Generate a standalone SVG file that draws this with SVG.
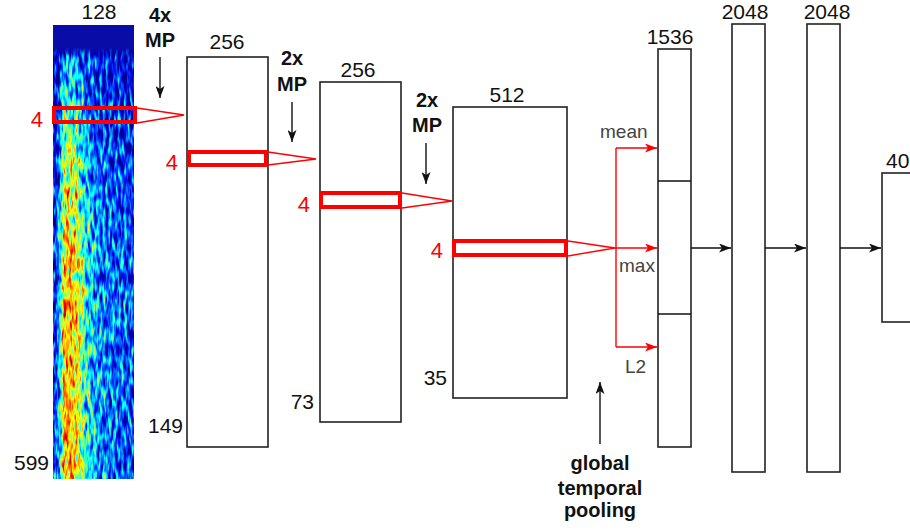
<svg xmlns="http://www.w3.org/2000/svg" width="910" height="531" viewBox="0 0 910 531">
<style>
.num{font-family:"Liberation Sans",Arial,sans-serif;font-size:21px;fill:#111}
.red{font-family:"Liberation Sans",Arial,sans-serif;font-size:22px;fill:#ff0000}
.bold{font-family:"Liberation Sans",Arial,sans-serif;font-size:20px;font-weight:bold;fill:#111;text-anchor:middle}
.gray{font-family:"Liberation Sans",Arial,sans-serif;font-size:19px;fill:#444}
.box{fill:#fff;stroke:#222;stroke-width:1.6}
.rbox{fill:none;stroke:#ff0000;stroke-width:4}
.tri{fill:none;stroke:#ff0000;stroke-width:1.3}
.conn{stroke:#111;stroke-width:1.4;fill:none}
.rconn{stroke:#ff0000;stroke-width:1.4;fill:none}
</style>
<defs>
<marker id="ah" viewBox="0 0 12 9" markerWidth="12" markerHeight="9" refX="12" refY="4.5" orient="auto" markerUnits="userSpaceOnUse">
<path d="M0,0 L12,4.5 L0,9 L3,4.5 z" fill="#111"/>
</marker>
<marker id="rah" viewBox="0 0 12 9" markerWidth="12" markerHeight="9" refX="12" refY="4.5" orient="auto" markerUnits="userSpaceOnUse">
<path d="M0,0 L12,4.5 L0,9 L3,4.5 z" fill="#ff0000"/>
</marker>
<linearGradient id="hint" x1="0" y1="0" x2="1" y2="0">
<stop offset="0" stop-color="rgb(35,35,35)"/>
<stop offset="0.07" stop-color="rgb(60,60,60)"/>
<stop offset="0.13" stop-color="rgb(178,178,178)"/>
<stop offset="0.28" stop-color="rgb(170,170,170)"/>
<stop offset="0.42" stop-color="rgb(95,95,95)"/>
<stop offset="0.6" stop-color="rgb(62,62,62)"/>
<stop offset="1" stop-color="rgb(45,45,45)"/>
</linearGradient>
<linearGradient id="vdark" x1="0" y1="0" x2="0" y2="1">
<stop offset="0" stop-color="#000" stop-opacity="0.9"/>
<stop offset="0.1" stop-color="#000" stop-opacity="0.55"/>
<stop offset="0.3" stop-color="#000" stop-opacity="0.2"/>
<stop offset="0.55" stop-color="#000" stop-opacity="0"/>
</linearGradient>
<linearGradient id="topfade" x1="0" y1="0" x2="0" y2="1">
<stop offset="0" stop-color="#0a0ca8" stop-opacity="1"/>
<stop offset="0.7" stop-color="#0a0ca8" stop-opacity="1"/>
<stop offset="1" stop-color="#0a0ca8" stop-opacity="0"/>
</linearGradient>
<filter id="jet" x="0" y="0" width="1" height="1" color-interpolation-filters="sRGB">
<feTurbulence type="fractalNoise" baseFrequency="0.33 0.07" numOctaves="2" seed="7" result="n"/>
<feColorMatrix in="n" type="matrix" values="1 0 0 0 0  1 0 0 0 0  1 0 0 0 0  0 0 0 0 1" result="g"/>
<feComposite in="SourceGraphic" in2="g" operator="arithmetic" k1="0" k2="1" k3="1.0" k4="-0.5" result="s"/>
<feColorMatrix in="s" type="matrix" values="1 0 0 0 0  1 0 0 0 0  1 0 0 0 0  0 0 0 0 1" result="s2"/>
<feComponentTransfer in="s2">
<feFuncR type="table" tableValues="0 0 0 0 0.5 1 1 1 0.5"/>
<feFuncG type="table" tableValues="0 0.1 0.5 1 1 1 0.5 0 0"/>
<feFuncB type="table" tableValues="0.6 1 1 1 0.5 0 0 0 0"/>
</feComponentTransfer>
</filter>
</defs>

<g id="spectrogram">
<g filter="url(#jet)">
<rect x="53" y="25" width="81" height="454" fill="url(#hint)"/>
<rect x="53" y="25" width="81" height="454" fill="url(#vdark)"/>
</g>
<rect x="53" y="25" width="81" height="32" fill="url(#topfade)"/>
<text class="num" x="99" y="19" text-anchor="middle">128</text>
<text class="num" x="49" y="470" text-anchor="end">599</text>
</g>

<g id="conv1">
<rect class="box" x="187" y="57" width="81" height="390"/>
<text class="num" x="227" y="49" text-anchor="middle">256</text>
<text class="num" x="183" y="433" text-anchor="end">149</text>
</g>

<g id="conv2">
<rect class="box" x="320" y="82" width="81" height="340"/>
<text class="num" x="358" y="77" text-anchor="middle">256</text>
<text class="num" x="314" y="409" text-anchor="end">73</text>
</g>

<g id="conv3">
<rect class="box" x="453" y="107" width="114" height="291"/>
<text class="num" x="507" y="102" text-anchor="middle">512</text>
<text class="num" x="447" y="385" text-anchor="end">35</text>
</g>

<g id="pool1536">
<rect class="box" x="658" y="49" width="33" height="398"/>
<line class="conn" x1="658" y1="181" x2="691" y2="181"/>
<line class="conn" x1="658" y1="314" x2="691" y2="314"/>
<text class="num" x="670" y="44" text-anchor="middle">1536</text>
</g>

<g id="fc2048a">
<rect class="box" x="732" y="24" width="33" height="448"/>
<text class="num" x="745" y="19" text-anchor="middle">2048</text>
</g>

<g id="fc2048b">
<rect class="box" x="807" y="24" width="33" height="448"/>
<text class="num" x="827" y="19" text-anchor="middle">2048</text>
</g>

<g id="out40">
<rect class="box" x="882" y="173" width="40" height="149"/>
<text class="num" x="886" y="168">40</text>
</g>

<g id="windows">
<rect class="rbox" x="54" y="108" width="81" height="14"/>
<rect class="rbox" x="189" y="152" width="77" height="13"/>
<rect class="rbox" x="321" y="193" width="79" height="14"/>
<rect class="rbox" x="454" y="241" width="112" height="14"/>
<text class="red" x="43" y="127" text-anchor="end">4</text>
<text class="red" x="178" y="170" text-anchor="end">4</text>
<text class="red" x="310" y="212" text-anchor="end">4</text>
<text class="red" x="443" y="258" text-anchor="end">4</text>
</g>

<g id="labels">
<text class="bold" x="160" y="22">4x</text>
<text class="bold" x="160" y="47">MP</text>
<text class="bold" x="292" y="65">2x</text>
<text class="bold" x="292" y="91">MP</text>
<text class="bold" x="427" y="107">2x</text>
<text class="bold" x="427" y="132">MP</text>
<text class="gray" x="600" y="138">mean</text>
<text class="gray" x="619" y="272">max</text>
<text class="gray" x="625" y="373">L2</text>
<text class="bold" x="600" y="470">global</text>
<text class="bold" x="600" y="495">temporal</text>
<text class="bold" x="600" y="517">pooling</text>
</g>

<g id="connectors">
<polyline class="tri" points="137,108 184,115 137,123"/>
<polyline class="tri" points="268,152 316,159 268,165"/>
<polyline class="tri" points="402,193 452,201 402,208"/>
<polyline class="tri" points="568,241 615,248 568,256"/>
<line class="rconn" x1="616" y1="148" x2="616" y2="347"/>
<line class="rconn" x1="616" y1="148" x2="657" y2="148" marker-end="url(#rah)"/>
<line class="rconn" x1="615" y1="248" x2="657" y2="248" marker-end="url(#rah)"/>
<line class="rconn" x1="616" y1="347" x2="657" y2="347" marker-end="url(#rah)"/>
<line class="conn" x1="691" y1="248" x2="731" y2="248" marker-end="url(#ah)"/>
<line class="conn" x1="765" y1="248" x2="806" y2="248" marker-end="url(#ah)"/>
<line class="conn" x1="840" y1="248" x2="881" y2="248" marker-end="url(#ah)"/>
<line class="conn" x1="160" y1="57" x2="160" y2="98" marker-end="url(#ah)"/>
<line class="conn" x1="292" y1="102" x2="292" y2="142" marker-end="url(#ah)"/>
<line class="conn" x1="426" y1="143" x2="426" y2="184" marker-end="url(#ah)"/>
<line class="conn" x1="600" y1="444" x2="600" y2="382" marker-end="url(#ah)"/>
</g>
</svg>
